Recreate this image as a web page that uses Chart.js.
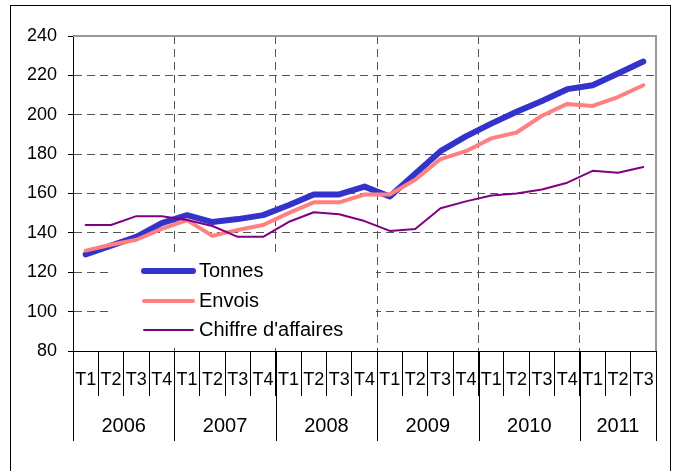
<!DOCTYPE html>
<html>
<head>
<meta charset="utf-8">
<script src="https://cdn.jsdelivr.net/npm/chart.js@4.4.1/dist/chart.umd.min.js"></script>
<style>
  html, body { margin: 0; padding: 0; background: #fff; overflow: hidden; }
  #wrap { position: relative; width: 675px; height: 471px; }
  #frame { position: absolute; left: 10px; top: 5px; width: 659px; height: 500px; border: 1px solid #000; pointer-events: none; }
</style>
</head>
<body>
<div id="wrap">
  <canvas id="chartCanvas"></canvas>
  <div id="frame"></div>
</div>
<script>
// --- data ---
const quarterLabels = [
  "T1", "T2", "T3", "T4",
  "T1", "T2", "T3", "T4",
  "T1", "T2", "T3", "T4",
  "T1", "T2", "T3", "T4",
  "T1", "T2", "T3", "T4",
  "T1", "T2", "T3"
];
const yearLabels = ["2006", "2007", "2008", "2009", "2010", "2011"];
const quartersPerYear = [4, 4, 4, 4, 4, 3];

const tonnes = [129, 133.5, 138, 145, 149, 145.5, 147, 149, 154, 159.5, 159.5, 163.5,
  158.5, 170, 181.5, 189, 195.5, 201.5, 207, 213, 215, 221, 227];
const envois = [131, 134, 136.5, 142, 146.5, 138.5, 141.5, 144, 150, 155.5, 155.5, 159.5,
  159.5, 167, 177.5, 181.5, 188, 191, 199.5, 205.5, 204.5, 209, 215];
const chiffre = [144, 144, 148.5, 148.5, 146.5, 143.5, 138, 138, 145.5, 150.5, 149.5, 146,
  141, 142, 152.5, 156, 159, 160, 162, 165.5, 171.5, 170.5, 173.5];

const FONT = "'Liberation Sans', Arial, sans-serif";

// indexes of grid lines that fall on a year boundary (inside the plot)
const yearBreaks = [];
let acc = 0;
quartersPerYear.forEach(n => { acc += n; yearBreaks.push(acc); });

// gray frame on top and right of the plot
const plotFrame = {
  id: "plotFrame",
  beforeDatasetsDraw(chart) {
    const { ctx, chartArea: a } = chart;
    ctx.save();
    ctx.strokeStyle = "#999";
    ctx.lineWidth = 2;
    ctx.beginPath();
    ctx.moveTo(a.left, a.top);
    ctx.lineTo(a.right, a.top);
    ctx.lineTo(a.right, a.bottom);
    ctx.stroke();
    ctx.restore();
  }
};

// second row of the x axis: years with long separators
const yearRow = {
  id: "yearRow",
  afterDraw(chart) {
    const { ctx, chartArea: a } = chart;
    const x = chart.scales.x;
    const half = (x.getPixelForValue(1) - x.getPixelForValue(0)) / 2;
    ctx.save();
    ctx.strokeStyle = "#000";
    ctx.lineWidth = 1;
    ctx.fillStyle = "#000";
    ctx.font = "20px " + FONT;
    ctx.textAlign = "center";
    ctx.textBaseline = "middle";
    let start = 0;
    yearLabels.forEach((yr, k) => {
      const end = start + quartersPerYear[k];
      const x0 = x.getPixelForValue(start) - half;
      const x1 = x.getPixelForValue(end - 1) + half;
      [x0, x1].forEach(px => {
        const p = Math.round(px) + 0.5;
        ctx.beginPath();
        ctx.moveTo(p, a.bottom);
        ctx.lineTo(p, 441);
        ctx.stroke();
      });
      ctx.fillText(yr, (x0 + x1) / 2, 426);
      start = end;
    });
    ctx.restore();
  }
};

// legend box sitting inside the plot
const innerLegend = {
  id: "innerLegend",
  afterDraw(chart) {
    const { ctx } = chart;
    const rows = [271, 301, 330];
    ctx.save();
    ctx.fillStyle = "#fff";
    ctx.fillRect(110, 257, 266, 90);
    ctx.font = "20px " + FONT;
    ctx.textBaseline = "middle";
    ctx.textAlign = "left";
    chart.data.datasets.forEach((ds, i) => {
      const y = rows[i];
      ctx.strokeStyle = ds.borderColor;
      ctx.lineWidth = ds.borderWidth;
      ctx.lineCap = "round";
      ctx.beginPath();
      ctx.moveTo(144, y);
      ctx.lineTo(193, y);
      ctx.stroke();
      ctx.fillStyle = "#000";
      ctx.fillText(ds.label, 199, y);
    });
    ctx.restore();
  }
};

const canvas = document.getElementById("chartCanvas");

new Chart(canvas, {
  type: "line",
  data: {
    labels: quarterLabels,
    datasets: [
      { label: "Tonnes", data: tonnes, borderColor: "#3333CC", borderWidth: 6, order: 3 },
      { label: "Envois", data: envois, borderColor: "#FF8080", borderWidth: 4, order: 2 },
      { label: "Chiffre d'affaires", data: chiffre, borderColor: "#800080", borderWidth: 2, order: 1 }
    ]
  },
  options: {
    responsive: true,
    maintainAspectRatio: false,
    animation: false,
    layout: { padding: { top: 36, right: 19, bottom: 0, left: 0 } },
    elements: {
      point: { radius: 0, hoverRadius: 0 },
      line: { tension: 0, borderCapStyle: "round", borderJoinStyle: "round", fill: false }
    },
    plugins: {
      legend: { display: false },
      tooltip: { enabled: false }
    },
    scales: {
      x: {
        type: "category",
        offset: true,
        afterFit(scale) { scale.height = 120; },
        grid: {
          offset: true,
          drawOnChartArea: true,
          color: ctx => yearBreaks.slice(0, -1).includes(ctx.index) ? "#555" : "rgba(0,0,0,0)",
          lineWidth: 1,
          tickColor: "#000",
          tickLength: 45,
          tickBorderDash: []
        },
        border: { display: true, color: "#000", width: 1, dash: [8, 5] },
        ticks: {
          color: "#000",
          font: { family: FONT, size: 18 },
          padding: -27,
          autoSkip: false,
          maxRotation: 0,
          minRotation: 0
        }
      },
      y: {
        min: 80,
        max: 240,
        afterFit(scale) { scale.width = 73; },
        grid: {
          color: ctx => (ctx.tick && ctx.tick.value === 80) ? "rgba(0,0,0,0)" : "#555",
          lineWidth: 1,
          tickColor: "#000",
          tickLength: 5,
          tickBorderDash: []
        },
        border: { display: true, color: "#000", width: 1, dash: [8, 5] },
        ticks: {
          stepSize: 20,
          color: "#000",
          font: { family: FONT, size: 18 },
          padding: 11
        }
      }
    }
  },
  plugins: [plotFrame, yearRow, innerLegend]
});
</script>
</body>
</html>
